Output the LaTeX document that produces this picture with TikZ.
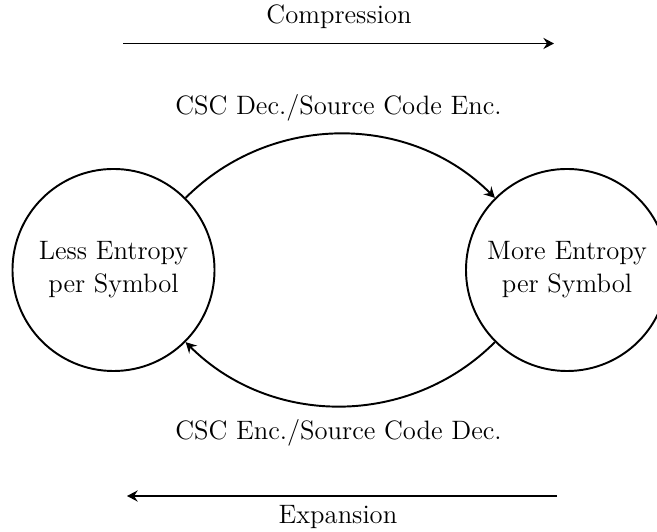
\documentclass[tikz,border=0pt]{standalone}
\usetikzlibrary{arrows.meta}
\begin{document}
\begin{tikzpicture}[x=0.4133pt,y=0.4133pt,
  font=\fontsize{11pt}{13.6pt}\selectfont,
  state/.style={circle,draw,thick,minimum size=83.5pt,inner sep=0pt,align=center},
  flow/.style={thick,-{Stealth[length=4.4pt,width=4.6pt,inset=1.5pt]}},
  lbl/.style={inner sep=0pt}]
  \clip (0,0) rectangle (657,532);
  \useasboundingbox (0,0) rectangle (657,532);

  % the two entropy states
  \node[state] (L) at (113.5,262) {Less Entropy\\per Symbol};
  \node[state] (R) at (567,262) {More Entropy\\per Symbol};

  % transitions between the states
  \draw[flow] (L.45) to[bend left=45] (R.135);
  \draw[flow] (R.-135) to[bend left=45] (L.-45);

  \node[lbl] (dec) at (338.5,424) {CSC Dec./Source Code Enc.};
  \node[lbl] (enc) at (338.5,99) {CSC Enc./Source Code Dec.};

  % overall direction arrows
  \coordinate (c1) at (123,488.5);
  \coordinate (c2) at (554,488.5);
  \draw[flow] (c1) -- (c2);
  \node[lbl] (comp) at (339,515.5) {Compression};

  \coordinate (e1) at (557,36);
  \coordinate (e2) at (127,36);
  \draw[flow] (e1) -- (e2);
  \node[lbl] (exp) at (338,15) {Expansion};
\end{tikzpicture}
\end{document}
